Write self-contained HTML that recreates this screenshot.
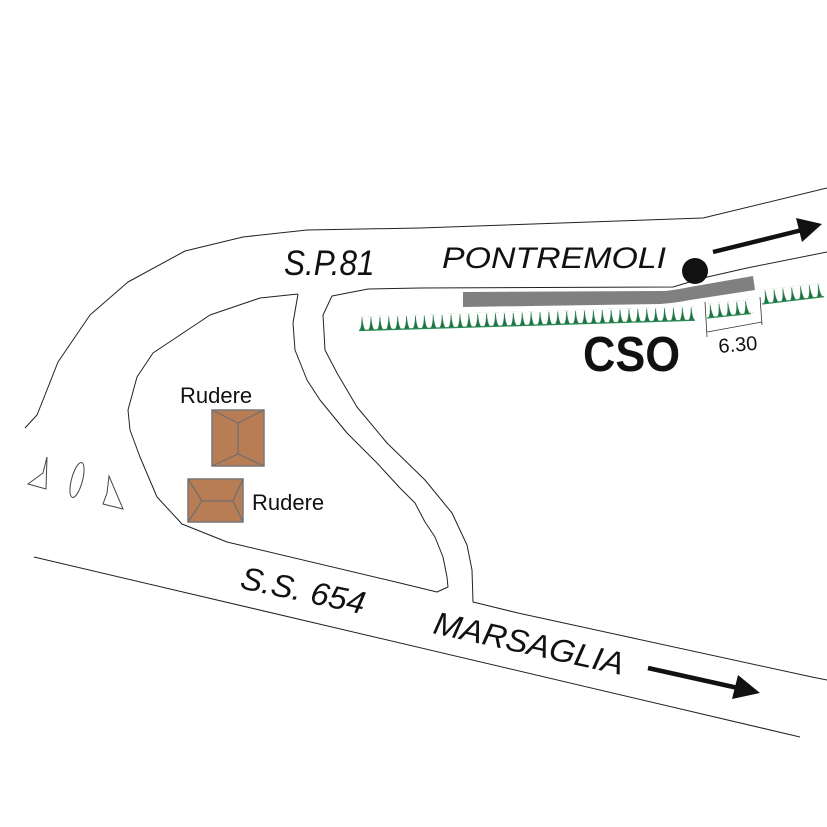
<!DOCTYPE html>
<html>
<head>
<meta charset="utf-8">
<style>
  html, body { margin: 0; padding: 0; background: #fff; }
  svg { display: block; }
  text { font-family: "Liberation Sans", Arial, sans-serif; fill: #111; }
</style>
</head>
<body>
<svg width="827" height="827" viewBox="0 0 827 827" xmlns="http://www.w3.org/2000/svg">
  <defs>
    <pattern id="teeth" patternUnits="userSpaceOnUse" width="8.9" height="14">
      <path d="M0,14 Q2.4,12 3,1 Q3.6,12 6,14 Z" fill="#1c7442" stroke="#1c7442" stroke-width="0.6"/>
    </pattern>
  </defs>
  <rect width="827" height="827" fill="#fff"/>

  <g fill="none" stroke="#222" stroke-width="1" stroke-linejoin="round">
    <polyline points="25,428 37,415 43,400 58,362 90,315 128,282 185,251 243,237 307,230 420,228 703,218 827,188"/>
    <polyline points="298,294 260,298 210,315 153,353 137,377 128,410 130,430 140,457 157,497 182,524 227,542 400,583 437,592 448,587 447,577 443,557 435,537 425,522 415,503 400,488 377,463 347,433 320,400 307,380 295,350 293,323 298,294"/>
    <polyline points="827,252 747,268 703,278 673,287 420,288 368,289 332,296 323,315 325,350 337,373 357,407 387,443 425,480 452,513 467,545 472,570 473,602 518,613 812,677 827,680"/>
    <line x1="34" y1="557" x2="800" y2="737"/>
  </g>

  <g fill="none" stroke="#444" stroke-width="1">
    <polygon points="47,457 43,473 28,484 46,489"/>
    <ellipse cx="77" cy="480" rx="5.5" ry="18" transform="rotate(15 77 480)"/>
    <polygon points="109,476 107,493 103,504 123,509"/>
  </g>

  <g stroke="#777" stroke-width="1.5" fill="#b97d55">
    <rect x="212" y="410" width="52" height="56"/>
    <rect x="188" y="479" width="55" height="43"/>
  </g>
  <g stroke="#6e6e6e" stroke-width="1.2" fill="none">
    <polyline points="212,410 238,423 264,410"/>
    <line x1="238" y1="423" x2="238" y2="454"/>
    <polyline points="212,466 238,454 264,466"/>
    <polyline points="188,479 202,501 188,522"/>
    <line x1="202" y1="501" x2="233" y2="501"/>
    <polyline points="243,479 233,501 243,522"/>
  </g>

  <path d="M463,292 L665,291 Q675,290 690,287 L753,276 L755,290 L690,300 Q675,303 660,304 L463,307 Z" fill="#808080"/>

  <circle cx="695" cy="271" r="13" fill="#111"/>

  <line x1="713" y1="252" x2="802" y2="230" stroke="#111" stroke-width="4.5"/>
  <polygon points="822,224 796,218 802,242" fill="#111"/>
  <line x1="648" y1="668" x2="738" y2="688" stroke="#111" stroke-width="4.5"/>
  <polygon points="760,693 738,675 732,699" fill="#111"/>

  <rect x="0" y="0" width="337" height="14" fill="url(#teeth)" transform="translate(359,316.5) rotate(-1.75)"/>
  <rect x="0" y="0" width="45" height="14" fill="url(#teeth)" transform="translate(707,304) rotate(-6)"/>
  <rect x="0" y="0" width="62" height="14" fill="url(#teeth)" transform="translate(762,290) rotate(-6.8)"/>
  <g stroke="#2a8a55" stroke-width="1.3" fill="none">
    <line x1="359" y1="330.5" x2="695" y2="320.2"/>
    <line x1="707" y1="318" x2="751" y2="313.5"/>
    <line x1="762" y1="304" x2="824" y2="296.6"/>
  </g>

  <g stroke="#333" stroke-width="0.8" fill="none">
    <line x1="705" y1="302" x2="707" y2="337"/>
    <line x1="760" y1="297" x2="762" y2="325"/>
    <line x1="707" y1="332" x2="762" y2="322"/>
  </g>

  <text x="0" y="0" font-size="35" font-style="italic" transform="translate(284,275) scale(0.9,1)">S.P.81</text>
  <text x="0" y="0" font-size="30" font-style="italic" transform="translate(442,268) scale(1.13,1)">PONTREMOLI</text>
  <text x="0" y="0" font-size="49" font-weight="bold" transform="translate(583,371) scale(0.915,1)">CSO</text>
  <text x="0" y="0" font-size="20" transform="translate(719,353) rotate(-5)">6.30</text>
  <text x="180" y="403" font-size="22">Rudere</text>
  <text x="252" y="510" font-size="22">Rudere</text>
  <text x="0" y="0" font-size="32" font-style="italic" transform="translate(239,588) rotate(12) scale(1.03,1)">S.S. 654</text>
  <text x="0" y="0" font-size="32" font-style="italic" transform="translate(432,633) rotate(12.5) scale(1.04,1)">MARSAGLIA</text>
</svg>
</body>
</html>
